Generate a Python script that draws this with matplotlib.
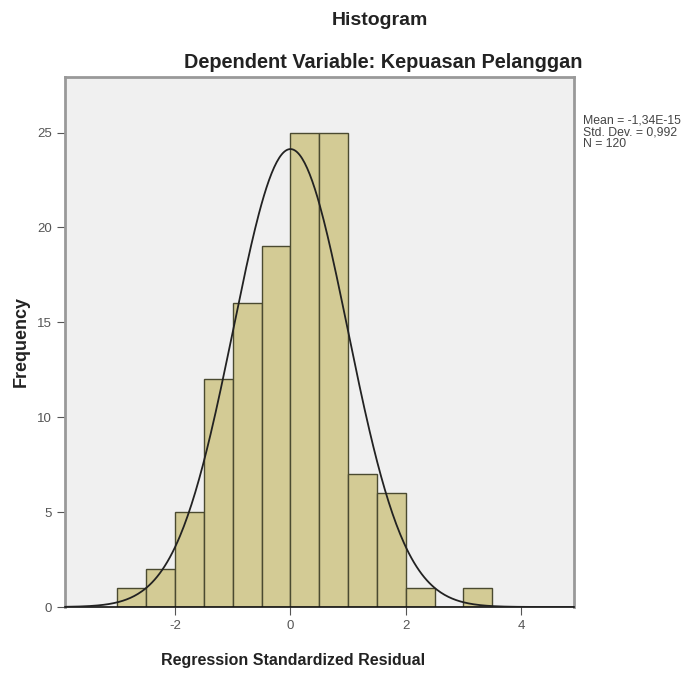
import matplotlib.pyplot as plt
import numpy as np

plt.rcParams['font.family'] = ['Liberation Sans', 'DejaVu Sans']

# bin edges and counts
bin_edges = [-3.0, -2.5, -2.0, -1.5, -1.0, -0.5, 0.0, 0.5, 1.0, 1.5, 2.0, 2.5, 3.0, 3.5]
counts = [1, 2, 5, 12, 16, 19, 25, 25, 7, 6, 1, 0, 1]
mean = -1.34e-15
std = 0.992
n = 120

fig = plt.figure(figsize=(6.91, 6.74), dpi=100)
fig.patch.set_facecolor('white')
ax = fig.add_axes([0.094, 0.0994, 0.737, 0.787])
ax.set_facecolor('#f0f0f0')

lefts = np.array(bin_edges[:-1])
widths = np.diff(bin_edges)
ax.bar(lefts, counts, width=widths, align='edge', color='#d3cb95',
       edgecolor='#4a4a30', linewidth=1.0, zorder=2)

# fitted normal curve
xs = np.linspace(-3.9, 4.9, 400)
ys = n * 0.5 / (std * np.sqrt(2 * np.pi)) * np.exp(-0.5 * ((xs - mean) / std) ** 2)
ax.plot(xs, ys, color='#222222', linewidth=1.3, zorder=3)

ax.set_xlim(-3.91, 4.92)
ax.set_ylim(0, 27.95)
ax.set_xticks([-2, 0, 2, 4])
ax.set_xticklabels(['-2', '0', '2', '4'])
ax.set_yticks([0, 5, 10, 15, 20, 25])

for s in ['left', 'top', 'right']:
    ax.spines[s].set_color('#999999')
    ax.spines[s].set_linewidth(2)
ax.spines['bottom'].set_color('#111111')
ax.spines['bottom'].set_linewidth(1.2)
ax.tick_params(axis='both', direction='out', length=6, color='#555555',
               labelcolor='#555555', labelsize=9.5)

ax.set_ylabel('Frequency', fontsize=13, fontweight='bold', color='#222222',
              va='center')
ax.yaxis.set_label_coords(-0.085, 0.5)
ax.set_xlabel('Regression Standardized Residual', fontsize=11.5,
              fontweight='bold', color='#222222', va='center')
ax.xaxis.set_label_coords(0.447, -0.1)

fig.text(0.550, 0.970, 'Histogram', ha='center', va='center', fontsize=14,
         fontweight='bold', color='#222222')
fig.text(0.554, 0.908, 'Dependent Variable: Kepuasan Pelanggan', ha='center',
         va='center', fontsize=14.3, fontweight='bold', color='#222222')

fig.text(0.843, 0.830, 'Mean = -1,34E-15\nStd. Dev. = 0,992\nN = 120',
         ha='left', va='top', fontsize=8.8, color='#444444', linespacing=0.95)

plt.savefig('out.png', dpi=100)
plt.close()
